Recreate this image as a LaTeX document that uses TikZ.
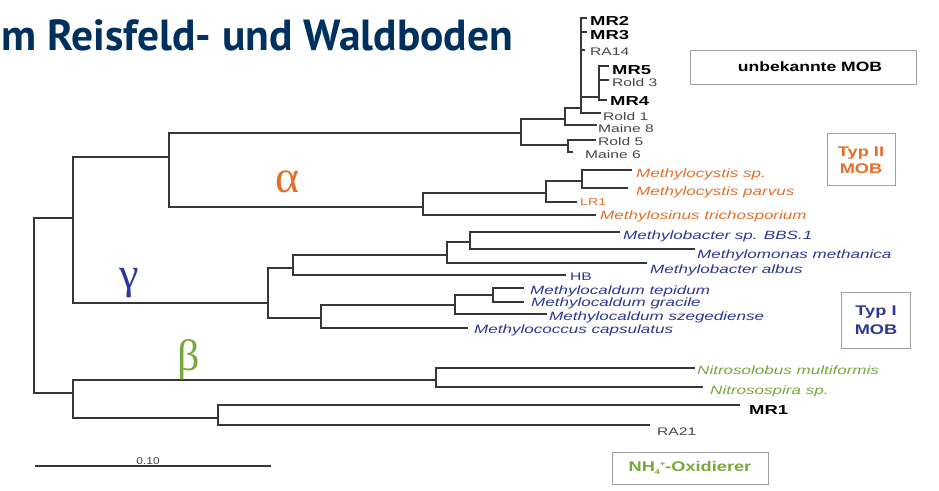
\documentclass[tikz,border=0pt]{standalone}
\usepackage{fontspec}
\usepackage{graphicx}
\setmainfont{Liberation Sans}
\newfontfamily\titlefont{PT Sans}
\newfontfamily\greekfont{Liberation Serif}
\definecolor{titleblue}{RGB}{0,48,94}
\definecolor{orng}{RGB}{228,110,40}
\definecolor{blu}{RGB}{45,55,150}
\definecolor{grn}{RGB}{118,168,60}
\definecolor{linegray}{RGB}{55,55,55}
\definecolor{leafgray}{RGB}{70,70,70}
\definecolor{boxgray}{RGB}{160,160,160}
\newcommand\wx[1]{\scalebox{1.42}[1]{#1}}
\begin{document}
\begin{tikzpicture}[x=1pt,y=-1pt,
  br/.style={draw=linegray,line width=1.4pt},
  lab/.style={anchor=west,inner sep=0pt},
  spec/.style={lab,font=\fontsize{12}{14}\selectfont\itshape},
  leafg/.style={lab,text=leafgray,font=\fontsize{11}{12}\selectfont},
  leafb/.style={lab,text=black,font=\fontsize{13}{15}\selectfont\bfseries},
  tagbox/.style={draw=boxgray,line width=0.9pt,inner sep=0pt},
  greek/.style={inner sep=0pt}]
\useasboundingbox (0,0) rectangle (939,490);
% title
\node[anchor=base west,inner sep=0pt,text=titleblue,font=\fontsize{43.5}{46}\selectfont\titlefont\bfseries] (title) at (1,50) {m Reisfeld- und Waldboden};
% internal nodes
\coordinate (root) at (34,300);
\coordinate (ag) at (73,218);
\coordinate (alpha) at (169,157);
\coordinate (gamma) at (268,303);
\coordinate (beta) at (73,393);
\coordinate (n1) at (521,133);
\coordinate (a2) at (423,207);
\coordinate (p) at (565,119);
\coordinate (r) at (568,145);
\coordinate (q) at (581,108);
\coordinate (v2) at (599,97);
\coordinate (m) at (546,193);
\coordinate (a4) at (582,181);
\coordinate (g1) at (293,268);
\coordinate (g2) at (321,318);
\coordinate (g5) at (447,255);
\coordinate (g6) at (470,242);
\coordinate (g3) at (455,305);
\coordinate (g4) at (493,295);
\coordinate (b1) at (436,380);
\coordinate (b2) at (218,418);
% leaf ends
\coordinate (eMaine8) at (597,125);
\coordinate (eMR2) at (587,18);
\coordinate (eMR3) at (587,32);
\coordinate (eRA14) at (585,50);
\coordinate (eRold1) at (601,113);
\coordinate (eMR5) at (609,66);
\coordinate (eRold3) at (609,80);
\coordinate (eMR4) at (607,100);
\coordinate (eRold5) at (596,140);
\coordinate (eMaine6) at (573,152);
\coordinate (eMsinus) at (596,215);
\coordinate (eLR1) at (577,202);
\coordinate (eMcsp) at (632,170);
\coordinate (eMcparv) at (628,188);
\coordinate (eHB) at (566,275);
\coordinate (eAlbus) at (647,263);
\coordinate (eBBS) at (620,232);
\coordinate (eMeth) at (695,249);
\coordinate (eCaps) at (468,328);
\coordinate (eSzeg) at (547,314);
\coordinate (eTep) at (524,288);
\coordinate (eGrac) at (524,302);
\coordinate (eNlob) at (695,368);
\coordinate (eNspira) at (703,387);
\coordinate (eMR1) at (740,405);
\coordinate (eRA21) at (650,425);
% branches
\draw[br] (root) |- (ag);
\draw[br] (root) |- (beta);
\draw[br] (ag) |- (alpha);
\draw[br] (ag) |- (gamma);
\draw[br] (alpha) |- (n1);
\draw[br] (alpha) |- (a2);
\draw[br] (n1) |- (p);
\draw[br] (n1) |- (r);
\draw[br] (p) |- (q);
\draw[br] (p) |- (eMaine8);
\draw[br] (q) |- (eMR2);
\draw[br] (q) |- (eMR3);
\draw[br] (q) |- (eRA14);
\draw[br] (q) |- (v2);
\draw[br] (q) |- (eRold1);
\draw[br] (v2) |- (eMR5);
\draw[br] (v2) |- (eRold3);
\draw[br] (v2) |- (eMR4);
\draw[br] (r) |- (eRold5);
\draw[br] (r) |- (eMaine6);
\draw[br] (a2) |- (m);
\draw[br] (a2) |- (eMsinus);
\draw[br] (m) |- (a4);
\draw[br] (m) |- (eLR1);
\draw[br] (a4) |- (eMcsp);
\draw[br] (a4) |- (eMcparv);
\draw[br] (gamma) |- (g1);
\draw[br] (gamma) |- (g2);
\draw[br] (g1) |- (g5);
\draw[br] (g1) |- (eHB);
\draw[br] (g5) |- (g6);
\draw[br] (g5) |- (eAlbus);
\draw[br] (g6) |- (eBBS);
\draw[br] (g6) |- (eMeth);
\draw[br] (g2) |- (g3);
\draw[br] (g2) |- (eCaps);
\draw[br] (g3) |- (g4);
\draw[br] (g3) |- (eSzeg);
\draw[br] (g4) |- (eTep);
\draw[br] (g4) |- (eGrac);
\draw[br] (beta) |- (b1);
\draw[br] (beta) |- (b2);
\draw[br] (b1) |- (eNlob);
\draw[br] (b1) |- (eNspira);
\draw[br] (b2) |- (eMR1);
\draw[br] (b2) |- (eRA21);
% leaf labels: top cluster
\node[leafb] (tMR2) at (590,21) {\wx{MR2}};
\node[leafb] (tMR3) at (590,35) {\wx{MR3}};
\node[leafg] (tRA14) at (590,52) {\wx{RA14}};
\node[leafb] (tMR5) at (612,70) {\wx{MR5}};
\node[leafg] (tRold3) at (612,83) {\wx{Rold 3}};
\node[leafb] (tMR4) at (610,101) {\wx{MR4}};
\node[leafg] (tRold1) at (603,117) {\wx{Rold 1}};
\node[leafg] (tMaine8) at (598,129) {\wx{Maine 8}};
\node[leafg] (tRold5) at (598,142) {\wx{Rold 5}};
\node[leafg] (tMaine6) at (585,155) {\wx{Maine 6}};
% alpha labels
\node[spec,text=orng] (tMcsp) at (636,174) {\wx{Methylocystis sp.}};
\node[spec,text=orng] (tMcparv) at (636,192) {\wx{Methylocystis parvus}};
\node[lab,text=orng,font=\fontsize{10}{12}\selectfont] (tLR1) at (580,202) {\wx{LR1}};
\node[spec,text=orng] (tMsinus) at (600,216) {\wx{Methylosinus trichosporium}};
% gamma labels
\node[spec,text=blu] (tBBS) at (623,236) {\wx{Methylobacter sp. BBS.1}};
\node[spec,text=blu] (tMeth) at (697,255) {\wx{Methylomonas methanica}};
\node[spec,text=blu] (tAlbus) at (650,270) {\wx{Methylobacter albus}};
\node[lab,text=blu,font=\fontsize{11}{13}\selectfont] (tHB) at (570,277) {\wx{HB}};
\node[spec,text=blu] (tTep) at (530,291) {\wx{Methylocaldum tepidum}};
\node[spec,text=blu] (tGrac) at (531,303) {\wx{Methylocaldum gracile}};
\node[spec,text=blu] (tSzeg) at (549,317) {\wx{Methylocaldum szegediense}};
\node[spec,text=blu] (tCaps) at (474,330) {\wx{Methylococcus capsulatus}};
% beta labels
\node[spec,text=grn] (tNlob) at (697,370) {\wx{Nitrosolobus multiformis}};
\node[spec,text=grn] (tNspira) at (710,391) {\wx{Nitrosospira sp.}};
\node[leafb] (tMR1) at (749,410) {\wx{MR1}};
\node[leafg] (tRA21) at (657,432) {\wx{RA21}};
% greek letters
\node[greek,text=orng,font=\fontsize{46}{50}\selectfont\greekfont] (galpha) at (288,182) {α};
\node[greek,text=blu,font=\fontsize{44}{50}\selectfont\greekfont] (ggamma) at (129,283) {γ};
\node[greek,text=grn,font=\fontsize{44}{50}\selectfont\greekfont] (gbeta) at (189,360) {β};
% boxes
\draw[tagbox] (690,50) rectangle (916,84);
\node[inner sep=0pt,font=\fontsize{13.5}{15}\selectfont\bfseries] (tunb) at (810,67) {\scalebox{1.3}[1]{unbekannte MOB}};
\draw[tagbox] (827,133) rectangle (895,185);
\node[inner sep=0pt,text=orng,align=center,font=\fontsize{14}{17}\selectfont\bfseries] (ttyp2) at (861,160) {\scalebox{1.3}[1]{Typ II}\\\scalebox{1.3}[1]{MOB}};
\draw[tagbox] (841,292) rectangle (910,348);
\node[inner sep=0pt,text=blu,align=center,font=\fontsize{14}{19}\selectfont\bfseries] (ttyp1) at (876,320) {\scalebox{1.3}[1]{Typ I}\\\scalebox{1.3}[1]{MOB}};
\draw[tagbox] (612,452) rectangle (768,484);
\node[inner sep=0pt,text=grn,font=\fontsize{14}{16}\selectfont\bfseries] (tnh) at (690,468) {\scalebox{1.3}[1]{NH\raisebox{-3pt}{\fontsize{7}{8}\selectfont 4}\raisebox{5pt}{\fontsize{7}{8}\selectfont +}-Oxidierer}};
% scale bar
\coordinate (sb1) at (35,466);
\coordinate (sb2) at (271,466);
\draw[br,line width=1.6pt] (sb1) -- (sb2);
\node[inner sep=0pt,text=leafgray,font=\fontsize{10}{12}\selectfont] (tsb) at (148,461) {\scalebox{1.2}[1]{0.10}};
\end{tikzpicture}
\end{document}
